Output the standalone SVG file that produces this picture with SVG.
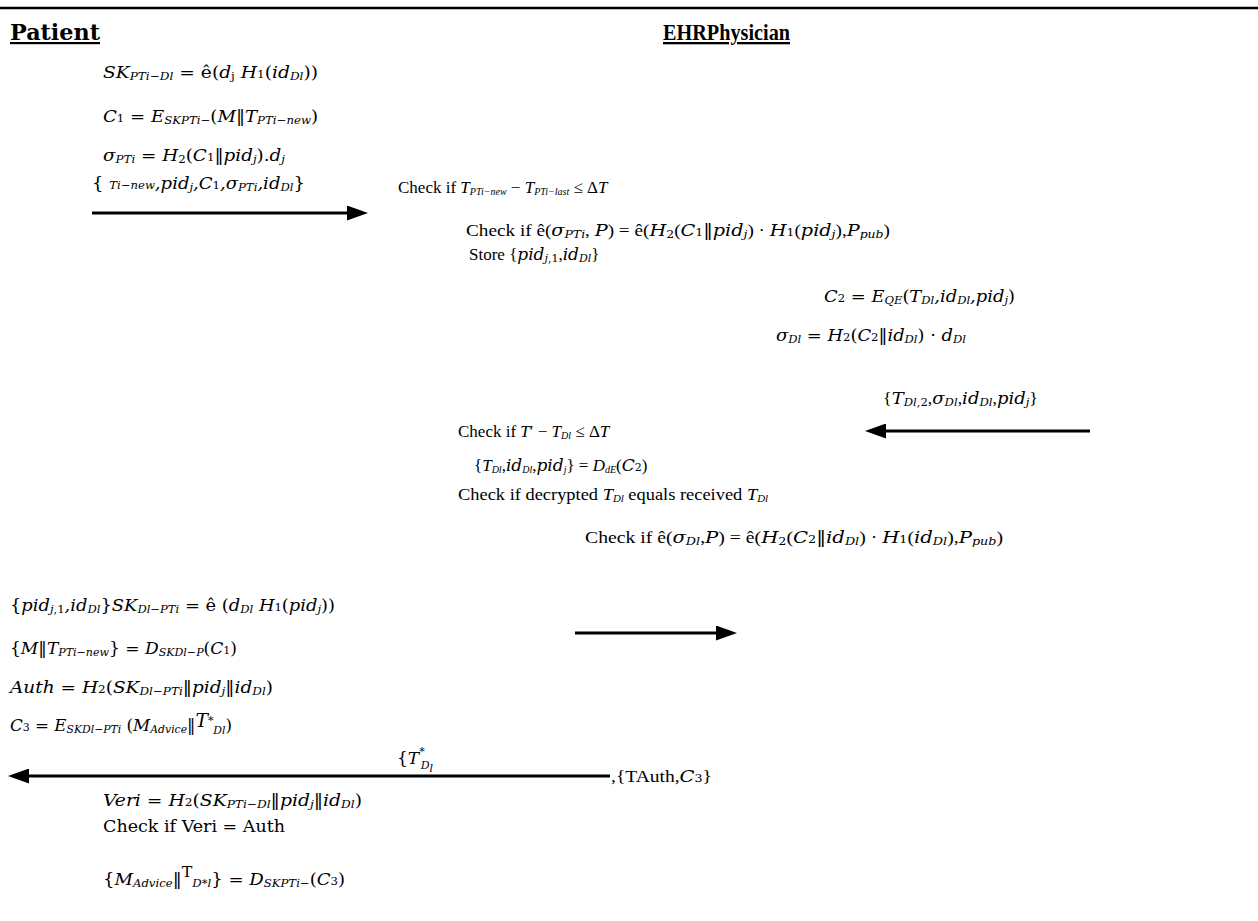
<svg xmlns="http://www.w3.org/2000/svg" width="1258" height="921" viewBox="0 0 1258 921">
<style>
text{font-family:"DejaVu Serif",serif;font-size:17px;fill:#000}
.m{font-family:"DejaVu Serif",serif;font-style:italic}
.r{font-style:normal}
.s{font-family:"DejaVu Serif",serif;font-size:11px;font-style:italic}
.su{font-family:"DejaVu Serif",serif;font-size:11px;font-style:normal}
.t{font-family:"Liberation Serif","Times New Roman",serif;font-size:17px}
.tt{font-family:"Liberation Serif","Times New Roman",serif;font-style:italic}
.ts{font-family:"Liberation Serif","Times New Roman",serif;font-style:italic;font-size:10px}
.hp{font-family:"DejaVu Serif",serif;font-weight:bold;font-size:22px;text-decoration:underline}
.he{font-family:"Liberation Serif",serif;font-weight:bold;font-size:23px;text-decoration:underline}
.conn{stroke:#000;stroke-width:3;fill:none}
</style>
<defs>
<marker id="ah" viewBox="0 0 14 10" refX="0" refY="5" markerWidth="7" markerHeight="5" markerUnits="strokeWidth" orient="auto">
<path d="M0,0 L14,5 L0,10 z" fill="#000"/>
</marker>
</defs>
<rect width="1258" height="921" fill="#fff"/>
<line x1="0" y1="8" x2="1258" y2="8" stroke="#000" stroke-width="2.5"/>

<g id="patient-header"><text class="hp" x="10" y="40" textLength="90" lengthAdjust="spacingAndGlyphs">Patient</text></g>
<g id="physician-header"><text class="he" x="663" y="40" textLength="127" lengthAdjust="spacingAndGlyphs">EHRPhysician</text></g>

<g id="patient-step1">
<text class="m" x="103" y="78" textLength="215" lengthAdjust="spacingAndGlyphs">SK<tspan class="s" dy="2">PTi−Dl</tspan><tspan class="r" dy="-2"> = ê(</tspan>d<tspan class="su" dy="2">j</tspan><tspan dy="-2"> H</tspan><tspan class="su">1</tspan><tspan class="r">(</tspan>id<tspan class="s" dy="2">Dl</tspan><tspan class="r" dy="-2">))</tspan></text>
<text class="m" x="103" y="122" textLength="215" lengthAdjust="spacingAndGlyphs">C<tspan class="su">1</tspan><tspan class="r"> = </tspan>E<tspan class="s" dy="2">SKPTi−</tspan><tspan class="r" dy="-2">(</tspan>M<tspan class="r">‖</tspan>T<tspan class="s" dy="2">PTi−new</tspan><tspan class="r" dy="-2">)</tspan></text>
<text class="m" x="103" y="161" textLength="182" lengthAdjust="spacingAndGlyphs">σ<tspan class="s" dy="2">PTi</tspan><tspan class="r" dy="-2"> = </tspan>H<tspan class="su" dy="2">2</tspan><tspan class="r" dy="-2">(</tspan>C<tspan class="su">1</tspan><tspan class="r">‖</tspan>pid<tspan class="s" dy="2">j</tspan><tspan class="r" dy="-2">).</tspan>d<tspan class="s" dy="2">j</tspan></text>
<text class="m" x="92" y="189" textLength="213" lengthAdjust="spacingAndGlyphs"><tspan class="r">{ </tspan><tspan class="s">Ti−new</tspan>,pid<tspan class="s" dy="2">j</tspan><tspan dy="-2">,C</tspan><tspan class="su">1</tspan>,σ<tspan class="s" dy="2">PTi</tspan><tspan dy="-2">,id</tspan><tspan class="s" dy="2">Dl</tspan><tspan class="r" dy="-2">}</tspan></text>
</g>

<g id="physician-step1">
<text class="t" x="398" y="193">Check if <tspan class="tt">T</tspan><tspan class="ts" dy="2">PTi−new</tspan><tspan dy="-2"> − </tspan><tspan class="tt">T</tspan><tspan class="ts" dy="2">PTi−last</tspan><tspan dy="-2"> ≤ Δ</tspan><tspan class="tt">T</tspan></text>
<text class="t" x="466" y="236" textLength="424" lengthAdjust="spacingAndGlyphs">Check if  ê(<tspan class="m">σ</tspan><tspan class="s" dy="2">PTi</tspan><tspan dy="-2">, </tspan><tspan class="m">P</tspan>) = ê(<tspan class="m">H</tspan><tspan class="su" dy="2">2</tspan><tspan dy="-2">(</tspan><tspan class="m">C</tspan><tspan class="su">1</tspan><tspan class="m r">‖</tspan><tspan class="m">pid</tspan><tspan class="s" dy="2">j</tspan><tspan dy="-2">) · </tspan><tspan class="m">H</tspan><tspan class="su">1</tspan>(<tspan class="m">pid</tspan><tspan class="s" dy="2">j</tspan><tspan dy="-2">),</tspan><tspan class="m">P</tspan><tspan class="s" dy="2">pub</tspan><tspan dy="-2">)</tspan></text>
<text class="t" x="469" y="260">Store {<tspan class="m">pid</tspan><tspan class="s" dy="2">j</tspan><tspan class="su">,1</tspan><tspan dy="-2">,</tspan><tspan class="m">id</tspan><tspan class="s" dy="2">Dl</tspan><tspan dy="-2">}</tspan></text>
</g>

<g id="physician-step2">
<text class="m" x="824" y="302" textLength="191" lengthAdjust="spacingAndGlyphs">C<tspan class="su">2</tspan><tspan class="r"> = </tspan>E<tspan class="s" dy="2">QE</tspan><tspan class="r" dy="-2">(</tspan>T<tspan class="s" dy="2">Dl</tspan><tspan dy="-2">,id</tspan><tspan class="s" dy="2">Dl</tspan><tspan dy="-2">,pid</tspan><tspan class="s" dy="2">j</tspan><tspan class="r" dy="-2">)</tspan></text>
<text class="m" x="776" y="341" textLength="190" lengthAdjust="spacingAndGlyphs">σ<tspan class="s" dy="2">Dl</tspan><tspan class="r" dy="-2"> = </tspan>H<tspan class="su">2</tspan><tspan class="r">(</tspan>C<tspan class="su">2</tspan><tspan class="r">‖</tspan>id<tspan class="s" dy="2">Dl</tspan><tspan class="r" dy="-2">) · </tspan>d<tspan class="s" dy="2">Dl</tspan></text>
<text class="t" x="883" y="404" textLength="155" lengthAdjust="spacingAndGlyphs">{<tspan class="m">T</tspan><tspan class="s" dy="2">Dl</tspan><tspan class="su">,2</tspan><tspan dy="-2">,</tspan><tspan class="m">σ</tspan><tspan class="s" dy="2">Dl</tspan><tspan dy="-2">,</tspan><tspan class="m">id</tspan><tspan class="s" dy="2">Dl</tspan><tspan dy="-2">,</tspan><tspan class="m">pid</tspan><tspan class="s" dy="2">j</tspan><tspan dy="-2">}</tspan></text>
</g>

<g id="physician-step3">
<text class="t" x="458" y="437">Check if <tspan class="tt">T</tspan>′ − <tspan class="tt">T</tspan><tspan class="ts" dy="2">Dl</tspan><tspan dy="-2"> ≤ Δ</tspan><tspan class="tt">T</tspan></text>
<text class="t" x="474" y="471">{<tspan class="tt">T</tspan><tspan class="ts" dy="2">Dl</tspan><tspan dy="-2">,</tspan><tspan class="m">id</tspan><tspan class="ts" dy="2">Dl</tspan><tspan dy="-2">,</tspan><tspan class="m">pid</tspan><tspan class="ts" dy="2">j</tspan><tspan dy="-2">} = </tspan><tspan class="tt">D</tspan><tspan class="ts" dy="2">dE</tspan><tspan dy="-2">(</tspan><tspan class="m">C</tspan><tspan class="su">2</tspan>)</text>
<text class="t" x="458" y="500" textLength="310" lengthAdjust="spacingAndGlyphs">Check if decrypted <tspan class="tt">T</tspan><tspan class="ts" dy="2">Dl</tspan><tspan dy="-2"> equals received </tspan><tspan class="tt">T</tspan><tspan class="ts" dy="2">Dl</tspan></text>
<text class="t" x="585" y="543" textLength="418" lengthAdjust="spacingAndGlyphs">Check if ê(<tspan class="m">σ</tspan><tspan class="s" dy="2">Dl</tspan><tspan dy="-2">,</tspan><tspan class="m">P</tspan>) = ê(<tspan class="m">H</tspan><tspan class="su" dy="2">2</tspan><tspan dy="-2">(</tspan><tspan class="m">C</tspan><tspan class="su">2</tspan><tspan class="m r">‖</tspan><tspan class="m">id</tspan><tspan class="s" dy="2">Dl</tspan><tspan dy="-2">) · </tspan><tspan class="m">H</tspan><tspan class="su">1</tspan>(<tspan class="m">id</tspan><tspan class="s" dy="2">Dl</tspan><tspan dy="-2">),</tspan><tspan class="m">P</tspan><tspan class="s" dy="2">pub</tspan><tspan dy="-2">)</tspan></text>
</g>

<g id="physician-step4">
<text class="m" x="10" y="611" textLength="325" lengthAdjust="spacingAndGlyphs"><tspan class="r">{</tspan>pid<tspan class="s" dy="2">j</tspan><tspan class="su">,1</tspan><tspan dy="-2">,id</tspan><tspan class="s" dy="2">Dl</tspan><tspan class="r" dy="-2">}</tspan>SK<tspan class="s" dy="2">Dl−PTi</tspan><tspan class="r" dy="-2"> = ê (</tspan>d<tspan class="s" dy="2">Dl</tspan><tspan dy="-2"> H</tspan><tspan class="su">1</tspan><tspan class="r">(</tspan>pid<tspan class="s" dy="2">j</tspan><tspan class="r" dy="-2">))</tspan></text>
<text class="m" x="10" y="654" textLength="227" lengthAdjust="spacingAndGlyphs"><tspan class="r">{</tspan>M<tspan class="r">‖</tspan>T<tspan class="s" dy="2">PTi−new</tspan><tspan class="r" dy="-2">} = </tspan>D<tspan class="s" dy="2">SKDl−P</tspan><tspan class="r" dy="-2">(</tspan>C<tspan class="su">1</tspan><tspan class="r">)</tspan></text>
<text class="m" x="10" y="693" textLength="263" lengthAdjust="spacingAndGlyphs">Auth<tspan class="r"> = </tspan>H<tspan class="su">2</tspan><tspan class="r">(</tspan>SK<tspan class="s" dy="2">Dl−PTi</tspan><tspan class="r" dy="-2">‖</tspan>pid<tspan class="s" dy="2">j</tspan><tspan class="r" dy="-2">‖</tspan>id<tspan class="s" dy="2">Dl</tspan><tspan class="r" dy="-2">)</tspan></text>
<text class="m" x="10" y="731" textLength="222" lengthAdjust="spacingAndGlyphs">C<tspan class="su">3</tspan><tspan class="r"> = </tspan>E<tspan class="s" dy="2">SKDl−PTi</tspan><tspan class="r" dy="-2"> (</tspan>M<tspan class="s" dy="2">Advice</tspan><tspan class="r" dy="-2">‖</tspan><tspan font-size="19" dy="-4">T</tspan><tspan class="su" dy="-3">*</tspan><tspan class="s" dy="10">Dl</tspan><tspan class="r" dy="-3">)</tspan></text>
</g>

<g id="message-label">
<text class="m" x="397" y="764" font-size="18"><tspan class="r">{</tspan>T<tspan class="su" dy="-9">*</tspan><tspan class="s" dx="-4" dy="14">D</tspan><tspan class="s" font-size="9" dy="3">l</tspan></text>
<text class="t" x="611" y="782" textLength="101" lengthAdjust="spacingAndGlyphs">,{TAuth,<tspan class="m">C</tspan><tspan class="su">3</tspan>}</text>
</g>

<g id="patient-step2">
<text class="m" x="103" y="806" textLength="259" lengthAdjust="spacingAndGlyphs">Veri<tspan class="r"> = </tspan>H<tspan class="su">2</tspan><tspan class="r">(</tspan>SK<tspan class="s" dy="2">PTi−Dl</tspan><tspan class="r" dy="-2">‖</tspan>pid<tspan class="s" dy="2">j</tspan><tspan class="r" dy="-2">‖</tspan>id<tspan class="s" dy="2">Dl</tspan><tspan class="r" dy="-2">)</tspan></text>
<text x="103" y="832" textLength="182" lengthAdjust="spacingAndGlyphs">Check if Veri = Auth</text>
<text class="m" x="103" y="885" textLength="242" lengthAdjust="spacingAndGlyphs"><tspan class="r">{</tspan>M<tspan class="s" dy="2">Advice</tspan><tspan class="r" dy="-2">‖</tspan><tspan class="r" font-size="15" dy="-8">T</tspan><tspan class="s" dy="10">D*l</tspan><tspan class="r" dy="-2">} = </tspan>D<tspan class="s" dy="2">SKPTi−</tspan><tspan class="r" dy="-2">(</tspan>C<tspan class="su">3</tspan><tspan class="r">)</tspan></text>
</g>

<g id="connectors">
<line class="conn" x1="92" y1="213" x2="347" y2="213" marker-end="url(#ah)"/>
<line class="conn" x1="1090" y1="431" x2="886" y2="431" marker-end="url(#ah)"/>
<line class="conn" x1="575" y1="633" x2="716" y2="633" marker-end="url(#ah)"/>
<line class="conn" x1="610" y1="776" x2="29" y2="776" marker-end="url(#ah)"/>
</g>
</svg>
